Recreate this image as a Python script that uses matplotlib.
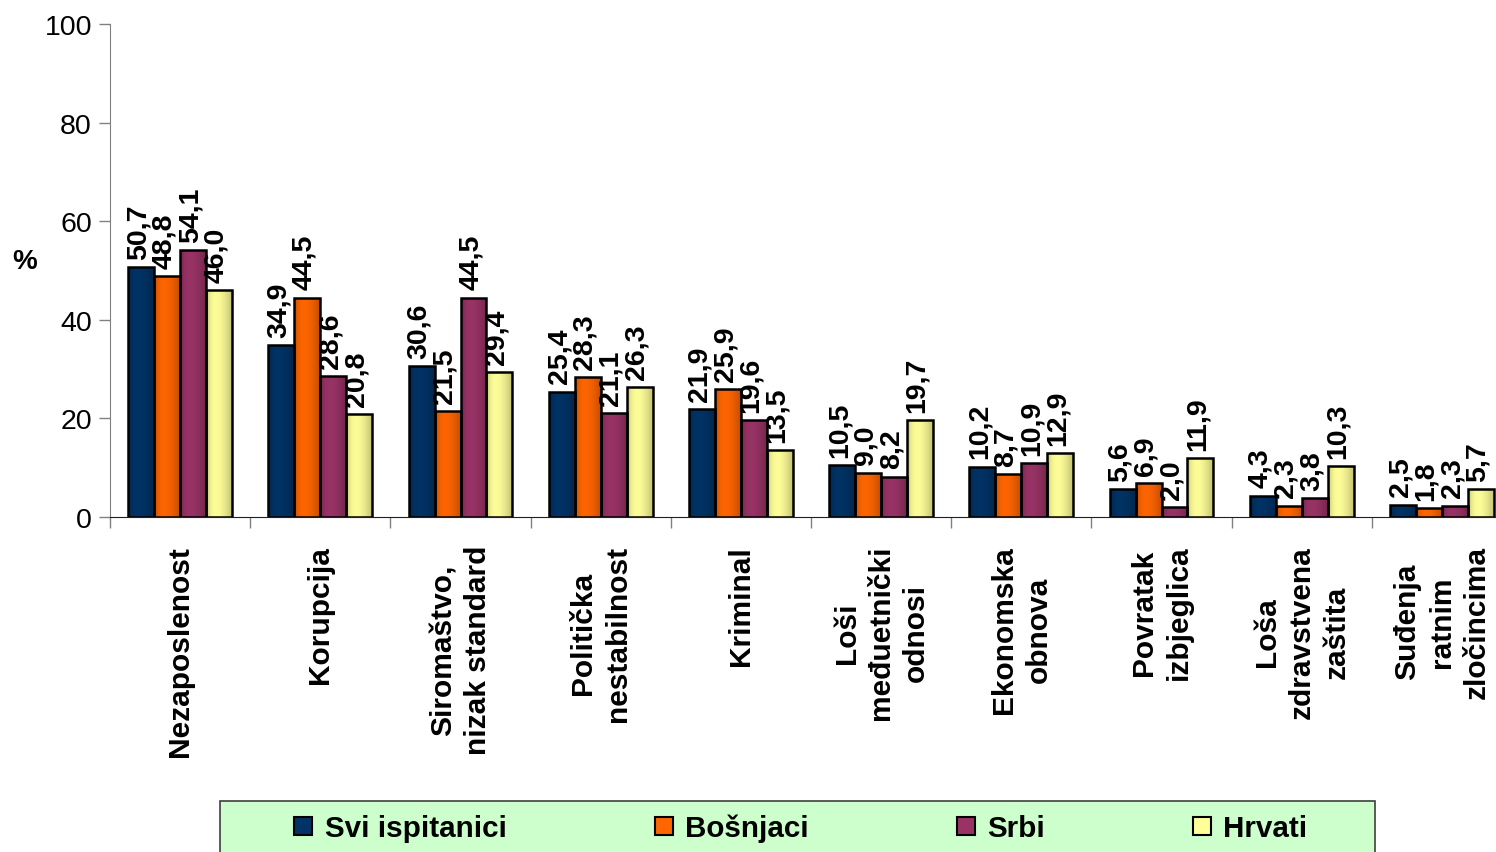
import numpy as np
import matplotlib
matplotlib.use('Agg')
import matplotlib.pyplot as plt
from matplotlib.colors import to_rgb
from matplotlib.patches import Rectangle

plt.rcParams['font.family'] = ['Liberation Sans', 'DejaVu Sans']

kategorije = ['Nezaposlenost', 'Korupcija', 'Siromaštvo,\nnizak standard',
              'Politička\nnestabilnost', 'Kriminal', 'Loši\nmeđuetnički\nodnosi',
              'Ekonomska\nobnova', 'Povratak\nizbjeglica', 'Loša\nzdravstvena\nzaštita',
              'Suđenja\nratnim\nzločincima']
grupe = ['Svi ispitanici', 'Bošnjaci', 'Srbi', 'Hrvati']
svi = [50.7, 34.9, 30.6, 25.4, 21.9, 10.5, 10.2, 5.6, 4.3, 2.5]
bosnjaci = [48.8, 44.5, 21.5, 28.3, 25.9, 9.0, 8.7, 6.9, 2.3, 1.8]
srbi = [54.1, 28.6, 44.5, 21.1, 19.6, 8.2, 10.9, 2.0, 3.8, 2.3]
hrvati = [46.0, 20.8, 29.4, 26.3, 13.5, 19.7, 12.9, 11.9, 10.3, 5.7]
boje = ['#003366', '#FF6600', '#993366', '#FFFF99']
y_ticks = [0, 20, 40, 60, 80, 100]

W, H = 1496, 853
fig = plt.figure(figsize=(W / 100, H / 100), dpi=100)
ax = fig.add_axes([110 / W, 1 - 518 / H, 1402 / W, 493 / H])


def gradijent(boja, n=64):
    # tamnije na rubovima, svjetlije malo lijevo od sredine
    t = np.linspace(0, 1, n)
    f = 1 - 0.5 * np.clip(t - 0.3, 0, None) ** 2 - 0.3 * (1 - t) ** 8
    return np.clip(np.array(to_rgb(boja))[None, None, :] * f[None, :, None], 0, 1)


x = np.arange(len(kategorije)) + 0.5
sirina = 0.185
for i, (vals, boja, ime) in enumerate(zip([svi, bosnjaci, srbi, hrvati], boje, grupe)):
    pos = x + (i - 1.5) * sirina
    bars = ax.bar(pos, vals, sirina, color=boja, edgecolor='none', label=ime, zorder=2)
    for b in bars:
        im = ax.imshow(gradijent(boja), extent=[b.get_x(), b.get_x() + b.get_width(), 0, b.get_height()],
                       aspect='auto', zorder=3, interpolation='bilinear')
        im.set_clip_path(b)
        ax.add_patch(Rectangle((b.get_x(), 0), b.get_width(), b.get_height(), fill=False,
                               edgecolor='black', linewidth=1.8, zorder=4))
    for px, v in zip(pos, vals):
        ax.annotate(f'{v:.1f}'.replace('.', ','), (px, v), xytext=(-2, 6),
                    textcoords='offset points', rotation=90, ha='center', va='bottom',
                    fontsize=20.5, fontweight='bold', zorder=5)

ax.set_xlim(0, len(kategorije))
ax.set_ylim(0, 100)
ax.set_yticks(y_ticks)
ax.tick_params(axis='y', labelsize=20.5, length=8, width=1, color='#808080', pad=5)
ax.set_xticks(np.arange(len(kategorije) + 1))
ax.set_xticklabels([])
ax.tick_params(axis='x', which='major', length=8, width=1, color='#808080')
ax.set_xticks(x, kategorije, minor=True)
ax.tick_params(axis='x', which='minor', length=0, pad=20)
for lbl in ax.get_xticklabels(minor=True):
    lbl.set_rotation(90)
    lbl.set_va('top')
    lbl.set_ha('center')
    lbl.set_multialignment('center')
    lbl.set_fontsize(21.5)
    lbl.set_fontweight('bold')
    lbl.set_linespacing(1.3)

for s in ['top', 'right']:
    ax.spines[s].set_visible(False)
ax.spines['left'].set_color('#808080')
ax.spines['bottom'].set_color('#202020')

fig.text(25 / W, 1 - 262 / H, '%', fontsize=20, fontweight='bold', ha='center', va='center')

# okvir legende
fig.patches.append(Rectangle((220 / W, -0.05), 1155 / W, (853 - 802) / H + 0.05,
                             transform=fig.transFigure, facecolor='#CCFFCC',
                             edgecolor='#404040', linewidth=1.2, zorder=0))
leg = fig.legend(loc='center', bbox_to_anchor=(801 / W, 1 - 829 / H), ncol=4,
                 frameon=False, fontsize=21.3, columnspacing=5.0, handlelength=0.6,
                 handleheight=0.55, handletextpad=0.43, borderpad=0)
for t, h in zip(leg.get_texts(), leg.legend_handles):
    t.set_fontweight('bold')
    h.set_edgecolor('black')
    h.set_linewidth(1.5)

fig.savefig('out.png', dpi=100)
